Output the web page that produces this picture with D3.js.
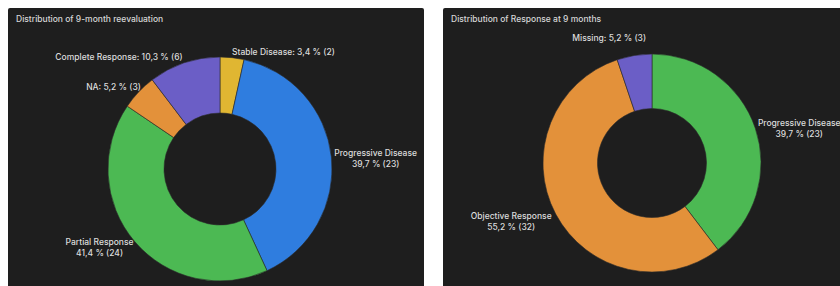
<!DOCTYPE html>
<html>
<head>
<meta charset="utf-8">
<script src="https://cdn.jsdelivr.net/npm/d3@7"></script>
<style>
  html, body { margin: 0; padding: 0; background: #ffffff; }
  svg { display: block; }
  text { font-family: Inter, "Noto Sans", sans-serif; }
</style>
</head>
<body>
<svg id="chart" width="840" height="286"></svg>
<script>
// ---- data ----
const leftTitle = "Distribution of 9-month reevaluation";
const leftCategories = ["Stable Disease", "Progressive Disease", "Partial Response", "NA", "Complete Response"];
const leftCounts = [2, 23, 24, 3, 6];
const leftColors = ["#e0b632", "#2f7ddf", "#4cb953", "#e3913a", "#6b5ec6"];

const rightTitle = "Distribution of Response at 9 months";
const rightCategories = ["Progressive Disease", "Objective Response", "Missing"];
const rightCounts = [23, 32, 3];
const rightColors = ["#4cb953", "#e3913a", "#6b5ec6"];

// label layout styles (lines: 1 = "name: p % (n)", 2 = name / p % (n))
const leftLabelStyle = [
  { lines: 1, anchor: "start", dx: -1, dy: 2.5 },
  { lines: 2, anchor: "start", dx: -5, dy: 3 },
  { lines: 2, anchor: "end", dx: 5, dy: 2 },
  { lines: 1, anchor: "end", dx: 8, dy: 1.5 },
  { lines: 1, anchor: "end", dx: 1, dy: 2 }
];
const rightLabelStyle = [
  { lines: 2, anchor: "start", dx: -5, dy: 4 },
  { lines: 2, anchor: "end", dx: 3, dy: 4 },
  { lines: 1, anchor: "end", dx: 13, dy: -9 }
];

const svg = d3.select("#chart");
const fmtPct = v => d3.format(".1f")(v).replace(".", ",");

function panel(opts) {
  const g = svg.append("g");
  g.append("rect")
    .attr("x", opts.px).attr("y", opts.py)
    .attr("width", opts.pw).attr("height", opts.ph)
    .attr("rx", 2)
    .attr("fill", "#1e1e1e");
  g.append("text")
    .attr("x", opts.px + 8).attr("y", opts.py + 14)
    .attr("fill", "#d6d6d6")
    .attr("font-size", 8.5)
    .attr("font-weight", 500)
    .text(opts.title);

  const total = d3.sum(opts.counts);
  const data = opts.categories.map((c, i) => ({ name: c, value: opts.counts[i], color: opts.colors[i], style: opts.styles[i] }));
  const pie = d3.pie().value(d => d.value).sort(null);
  const arcs = pie(data);
  const arc = d3.arc().innerRadius(opts.r * 0.5).outerRadius(opts.r);
  const labelArc = d3.arc().innerRadius(opts.r + 8).outerRadius(opts.r + 8);

  const cg = g.append("g").attr("transform", `translate(${opts.cx},${opts.cy})`);
  cg.selectAll("path").data(arcs).join("path")
    .attr("d", arc)
    .attr("fill", d => d.data.color)
    .attr("stroke", "#2a2a2a")
    .attr("stroke-width", 0.6);

  arcs.forEach(a => {
    const [x, y] = labelArc.centroid(a);
    const s = a.data.style;
    const pct = fmtPct(a.data.value / total * 100);
    const t = cg.append("text")
      .attr("fill", "#dcdcdc")
      .attr("font-size", 8.5)
      .attr("font-weight", 500);
    if (s.lines === 1) {
      t.attr("x", x + s.dx).attr("y", y + s.dy)
        .attr("dominant-baseline", "middle")
        .attr("text-anchor", s.anchor)
        .text(`${a.data.name}: ${pct} % (${a.data.value})`);
    } else {
      const l1 = a.data.name, l2 = `${pct} % (${a.data.value})`;
      t.text(l1);
      const w = t.node().getComputedTextLength();
      t.text(null);
      const left = s.anchor === "start" ? x + s.dx : x + s.dx - w;
      const mid = left + w / 2;
      t.attr("text-anchor", "middle");
      t.append("tspan").attr("x", mid).attr("y", y + s.dy - 5.5).attr("dominant-baseline", "middle").text(l1);
      t.append("tspan").attr("x", mid).attr("y", y + s.dy + 5.5).attr("dominant-baseline", "middle").text(l2);
    }
  });
}

panel({ px: 8, py: 8, pw: 416, ph: 290, title: leftTitle,
  categories: leftCategories, counts: leftCounts, colors: leftColors, styles: leftLabelStyle,
  cx: 220, cy: 169, r: 112 });
panel({ px: 443, py: 8, pw: 405, ph: 290, title: rightTitle,
  categories: rightCategories, counts: rightCounts, colors: rightColors, styles: rightLabelStyle,
  cx: 652, cy: 163, r: 109 });
</script>
</body>
</html>
